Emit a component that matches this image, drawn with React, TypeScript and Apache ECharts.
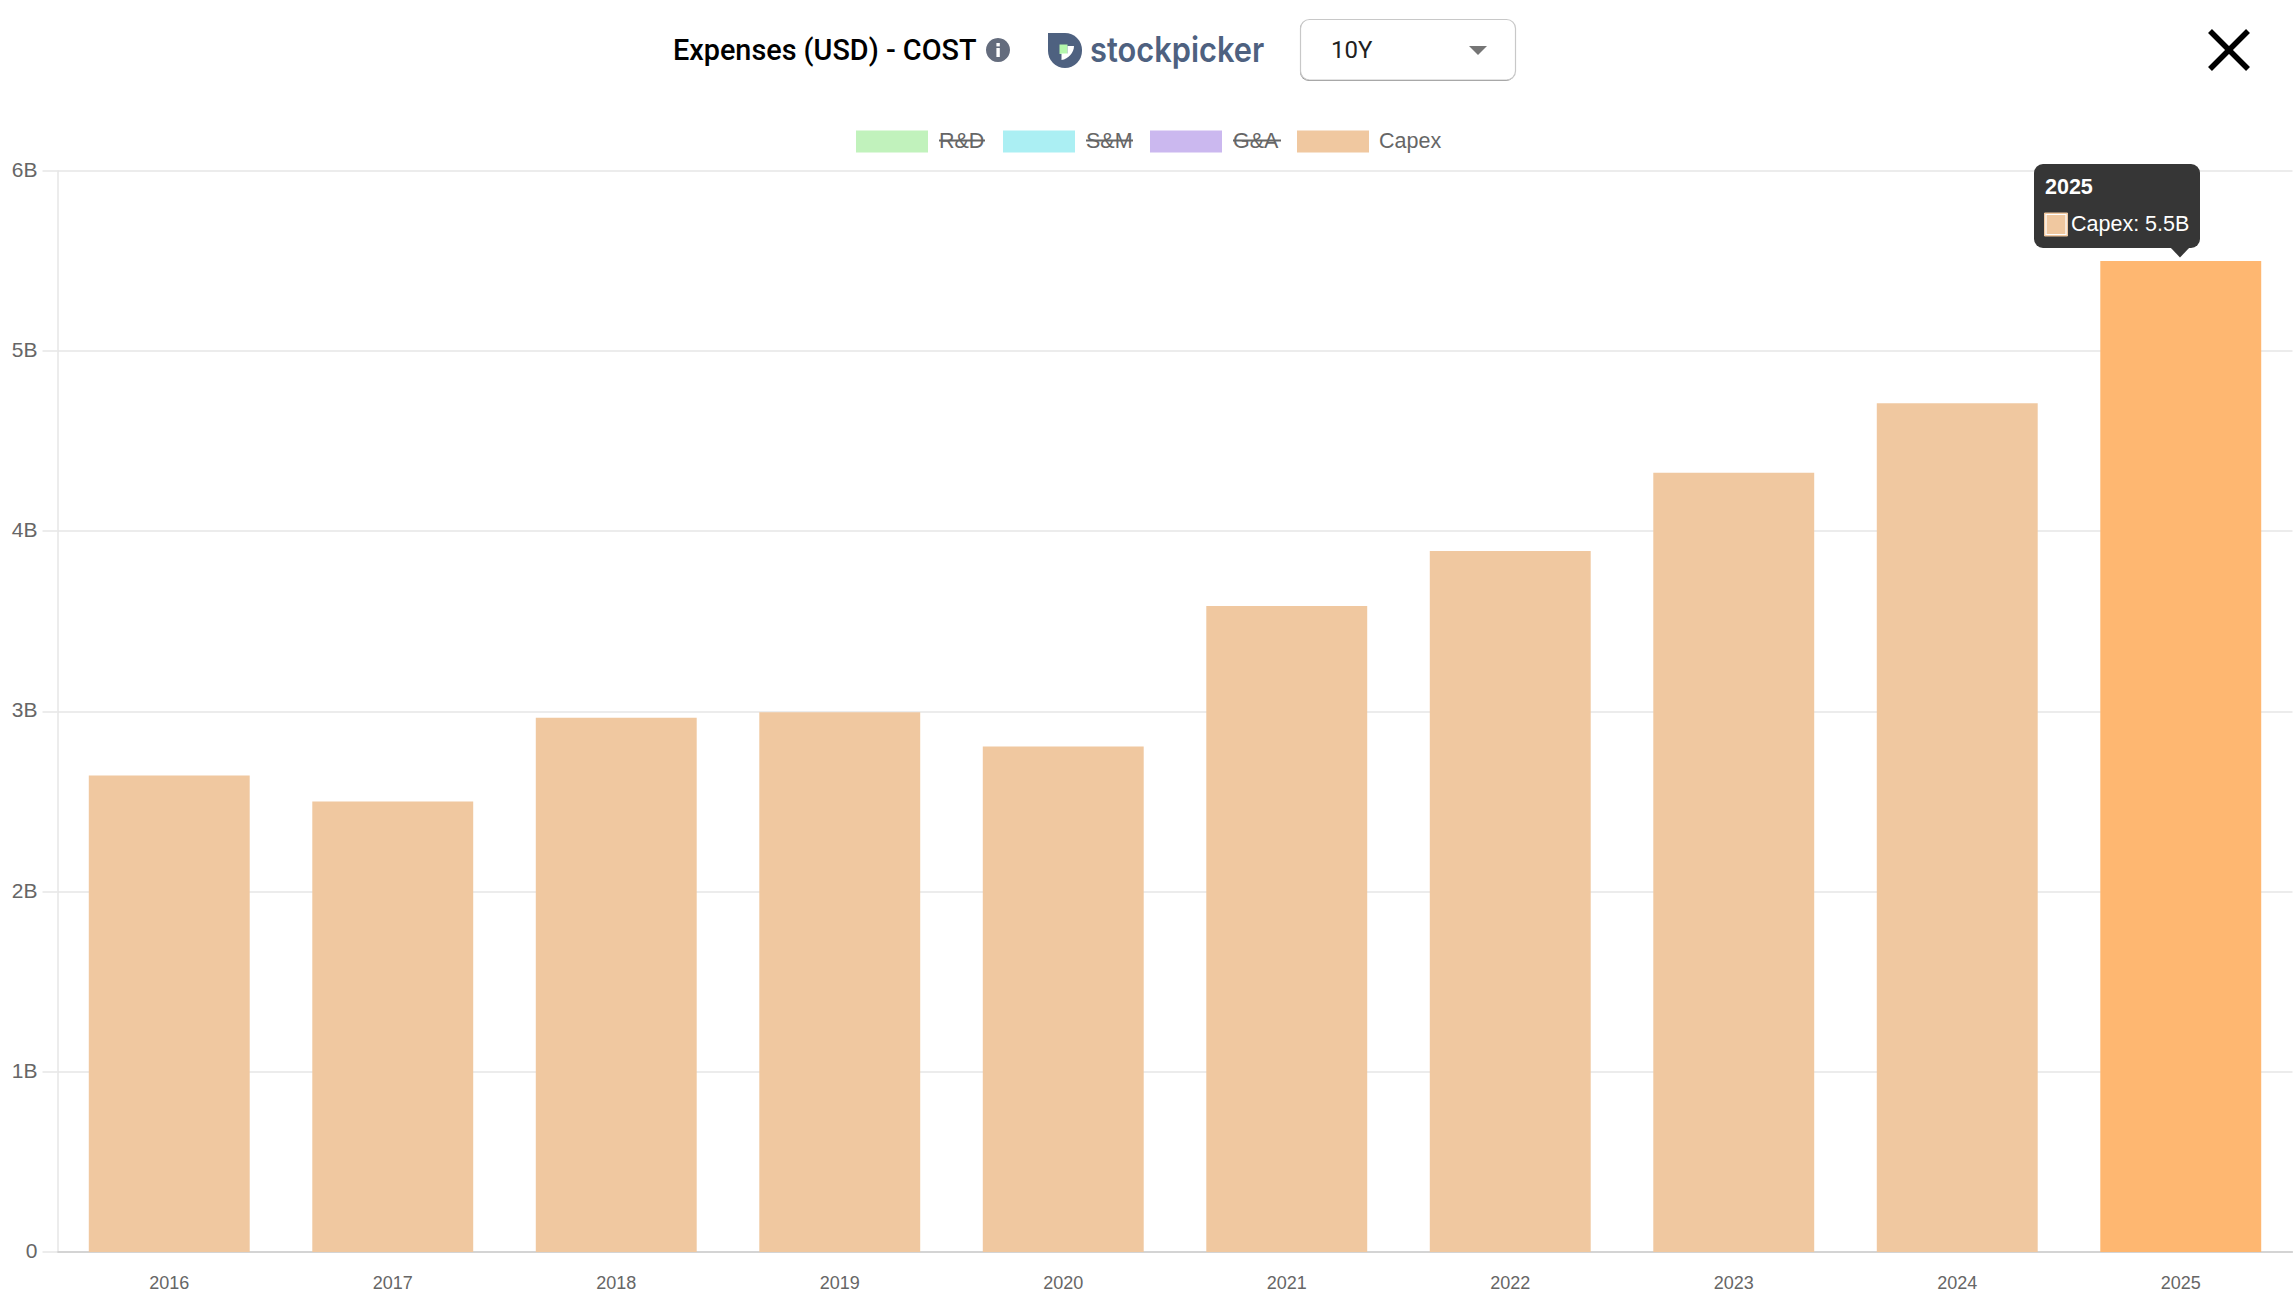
import React, { useEffect, useRef } from "react";
import * as echarts from "echarts";

const years = ["2016", "2017", "2018", "2019", "2020", "2021", "2022", "2023", "2024", "2025"];
const capex = [2.645, 2.5, 2.965, 2.995, 2.805, 3.585, 3.89, 4.325, 4.71, 5.5];
const yTickLabels = ["0", "1B", "2B", "3B", "4B", "5B", "6B"];
const highlightedYear = "2025";
const tooltipValue = "Capex: 5.5B";
const titleText = "Expenses (USD) - COST";
const brandText = "stockpicker";
const rangeText = "10Y";

const BAR = "#f0c8a0";
const BAR_HI = "#feb771";
const SANS = "'Liberation Sans', Arial, sans-serif";

echarts.graphic.registerShape(
  "spShield",
  echarts.graphic.extendPath(
    "M0 0 H17 A17 17 0 0 1 34 17 V18 A17 17 0 0 1 0 18 Z",
    {}
  )
);
echarts.graphic.registerShape(
  "spWedge",
  echarts.graphic.extendPath(
    "M19.5 13 H26 C26 19.5 20.5 26 13.5 27 V20.5 H19.5 Z",
    {}
  )
);

function legendItem(x: number, color: string, label: string, textX: number, textW: number, struck: boolean) {
  const items: any[] = [
    { type: "rect", shape: { x, y: 130.5, width: 72, height: 22 }, style: { fill: color } },
    {
      type: "text",
      x: textX,
      y: 140.5,
      style: { text: label, font: `21.5px ${SANS}`, fill: "#666666", align: "left", verticalAlign: "middle" },
    },
  ];
  if (struck) {
    items.push({
      type: "line",
      shape: { x1: textX, y1: 140.5, x2: textX + textW, y2: 140.5 },
      style: { stroke: "#666666", lineWidth: 2 },
    });
  }
  return items;
}

function buildGraphics() {
  const g: any[] = [];
  // header
  g.push({
    type: "text",
    x: 673,
    y: 49.5,
    style: { text: titleText, font: `500 28.8px Roboto, sans-serif`, fill: "#000000", align: "left", verticalAlign: "middle" },
  });
  g.push({ type: "circle", shape: { cx: 998, cy: 50, r: 12 }, style: { fill: "#646c7d" } });
  g.push({ type: "rect", shape: { x: 996.4, y: 43, width: 3.4, height: 3.4 }, style: { fill: "#ffffff" } });
  g.push({ type: "rect", shape: { x: 996.4, y: 48, width: 3.4, height: 9 }, style: { fill: "#ffffff" } });

  // logo
  g.push({ type: "spShield", x: 1048, y: 33, style: { fill: "#4e6180" } });
  g.push({ type: "rect", shape: { x: 1059.5, y: 44.5, width: 8, height: 9.5 }, style: { fill: "#b4f7ac" } });
  g.push({ type: "spWedge", x: 1048, y: 33, style: { fill: "#ffffff" } });
  g.push({
    type: "text",
    x: 1090,
    y: 49,
    scaleX: 0.88,
    style: { text: brandText, font: `600 35px Inter, sans-serif`, fill: "#4e6180", align: "left", verticalAlign: "middle" },
  });

  // range select
  g.push({ type: "rect", shape: { x: 1300, y: 20, width: 215, height: 61, r: 9 }, style: { fill: "#888888" } });
  g.push({
    type: "rect",
    shape: { x: 1300.5, y: 19.5, width: 215, height: 60.5, r: 9 },
    style: { fill: "#ffffff", stroke: "#c8c8c8", lineWidth: 1.2 },
  });
  g.push({
    type: "text",
    x: 1331,
    y: 50,
    style: { text: rangeText, font: `24px Roboto, sans-serif`, fill: "#212121", align: "left", verticalAlign: "middle" },
  });
  g.push({
    type: "polygon",
    shape: { points: [[1469, 46], [1487, 46], [1478, 55]] },
    style: { fill: "#757575" },
  });

  // close
  g.push({ type: "line", shape: { x1: 2210, y1: 31, x2: 2248, y2: 69 }, style: { stroke: "#000000", lineWidth: 5.5 } });
  g.push({ type: "line", shape: { x1: 2248, y1: 31, x2: 2210, y2: 69 }, style: { stroke: "#000000", lineWidth: 5.5 } });

  // legend
  g.push(...legendItem(856, "#c1f2bc", "R&D", 939, 46, true));
  g.push(...legendItem(1003, "#abeff3", "S&M", 1086, 47, true));
  g.push(...legendItem(1150, "#cbb8ef", "G&A", 1233, 48, true));
  g.push(...legendItem(1297, BAR, "Capex", 1379, 0, false));

  // tooltip
  g.push({
    type: "rect",
    z: 100,
    shape: { x: 2034, y: 164, width: 166, height: 84, r: 9 },
    style: { fill: "#363636" },
  });
  g.push({
    type: "polygon",
    z: 100,
    shape: { points: [[2170, 247], [2190, 247], [2180, 257.5]] },
    style: { fill: "#363636" },
  });
  g.push({
    type: "text",
    z: 101,
    x: 2045,
    y: 186.5,
    style: { text: highlightedYear, font: `bold 21.5px ${SANS}`, fill: "#ffffff", align: "left", verticalAlign: "middle" },
  });
  g.push({ type: "rect", z: 101, shape: { x: 2044.5, y: 213, width: 23, height: 23 }, style: { fill: BAR, stroke: "#f0c8a0", lineWidth: 1 } });
  g.push({ type: "rect", z: 101, shape: { x: 2046, y: 214.5, width: 20, height: 20 }, style: { fill: BAR, stroke: "#ffffff", lineWidth: 1.2 } });
  g.push({
    type: "text",
    z: 101,
    x: 2071,
    y: 223.5,
    style: { text: tooltipValue, font: `21.5px ${SANS}`, fill: "#ffffff", align: "left", verticalAlign: "middle" },
  });
  return g;
}

export default function App() {
  const ref = useRef<HTMLDivElement | null>(null);
  useEffect(() => {
    document.body.style.margin = "0";
    const chart = echarts.init(ref.current!, undefined, { renderer: "svg" });
    chart.setOption({
      animation: false,
      backgroundColor: "#ffffff",
      grid: { left: 57.5, right: 0.5, top: 170.8, height: 1081.3, containLabel: false },
      xAxis: {
        type: "category",
        data: years,
        axisLine: { show: true, lineStyle: { color: "#cccccc", width: 1.5 } },
        axisTick: { show: false },
        axisLabel: { color: "#666666", fontSize: 18, fontFamily: SANS, margin: 22 },
        splitLine: { show: false },
      },
      yAxis: {
        type: "value",
        min: 0,
        max: 6,
        interval: 1,
        axisLine: { show: true, lineStyle: { color: "#e6e6e6", width: 1.5 } },
        axisTick: { show: true, length: 15, lineStyle: { color: "#e6e6e6", width: 1.5 } },
        axisLabel: {
          margin: 20,
          formatter: (_v: number, i: number) => `{t|${yTickLabels[i]}}`,
          rich: {
            t: { color: "#666666", fontSize: 21, fontFamily: SANS, padding: [0, 0, 3, 0] },
          },
        },
        splitLine: { show: true, lineStyle: { color: "#e6e6e6", width: 1.5 } },
      },
      series: [
        {
          name: "Capex",
          type: "bar",
          barWidth: "72%",
          itemStyle: { color: BAR },
          data: capex.map((v, i) =>
            years[i] === highlightedYear ? { value: v, itemStyle: { color: BAR_HI } } : v
          ),
        },
      ],
      graphic: { elements: buildGraphics() },
    });
    return () => chart.dispose();
  }, []);
  return <div ref={ref} style={{ position: "absolute", left: 0, top: 0, width: 2293, height: 1297 }} />;
}
